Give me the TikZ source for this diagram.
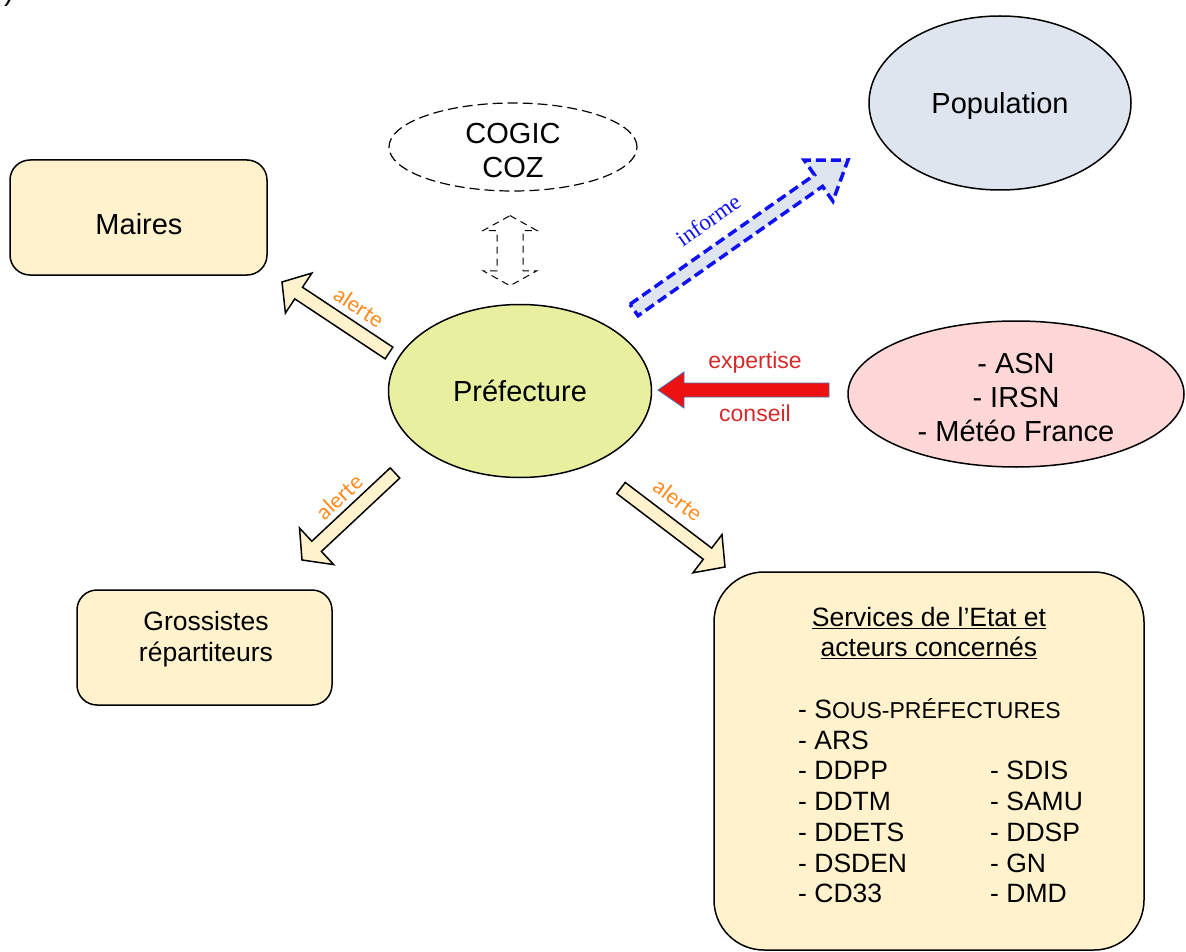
\documentclass[tikz,border=0pt]{standalone}
\usepackage{fontspec}
\setmainfont{Liberation Sans}
\newfontfamily\calibri{Carlito}
\newfontfamily\timesf{Liberation Serif}
\usetikzlibrary{calc,shapes.geometric}
\definecolor{boxY}{HTML}{FFF2CC}
\definecolor{prefG}{HTML}{E8F0A0}
\definecolor{popB}{HTML}{DEE5EE}
\definecolor{asnP}{HTML}{FFD7D7}
\definecolor{orangeT}{HTML}{FF8A1E}
\definecolor{redT}{HTML}{D42A2A}
\definecolor{redA}{HTML}{EE1111}
\definecolor{blueA}{HTML}{1010F5}
\definecolor{edgeB}{HTML}{4A6EA8}
% block arrow: style, tail, tip, half shaft, half head, head length, prefix
\newcommand\barrow[7]{%
  \coordinate (#7h) at ($(#3)!#6!(#2)$);
  \draw[#1] ($(#2)!#4!90:(#3)$) -- ($(#7h)!#4!90:(#3)$) -- ($(#7h)!#5!90:(#3)$) -- (#3)
    -- ($(#7h)!#5!-90:(#3)$) -- ($(#7h)!#4!-90:(#3)$) -- ($(#2)!#4!-90:(#3)$) -- cycle;}
\begin{document}
\begin{tikzpicture}[x=1pt,y=-1pt,
  every node/.style={inner sep=0pt},
  fbig/.style={font=\fontsize{29}{34}\selectfont},
  fmid/.style={font=\fontsize{26.5}{30.6}\selectfont},
  rbox/.style={draw, line width=1.5pt, fill=boxY},
  ell/.style={ellipse, draw, line width=1.5pt},
  alertarrow/.style={draw, line width=1.5pt, fill=boxY, line join=miter},
  alertlbl/.style={text=orangeT, font=\calibri\fontsize{23}{26}\selectfont},
  redlbl/.style={text=redT, font=\fontsize{23}{26}\selectfont}]
\useasboundingbox (0,0) rectangle (1186,952);

% cut-off fragment at top left
\node[fbig, anchor=south] (paren) at (9,7) {)};

% boxes
\node[rbox, rounded corners=20pt, minimum width=257pt, minimum height=115pt] (maires) at (138.5,217.5) {};
\node[fbig] (tmaires) at (139,224) {Maires};
\node[rbox, rounded corners=20pt, minimum width=255pt, minimum height=115pt] (gross) at (204.5,647.5) {};
\node[fmid, align=center] (tgross) at (206,639) {Grossistes\\répartiteurs};
\node[rbox, rounded corners=50pt, minimum width=430pt, minimum height=378pt] (serv) at (929,761) {};
\node[fmid, align=center] (tserv) at (929,633) {\underline{Services de l’Etat et}\\\underline{acteurs concernés}};
\node[fmid, anchor=base west] (s0) at (798,718.5) {- S{\fontsize{23}{26}\selectfont OUS-PRÉFECTURES}};
\foreach \t [count=\i] in {ARS,DDPP,DDTM,DDETS,DSDEN,CD33}
  \node[fmid, anchor=base west] (sl\i) at (798,718.5+30.7*\i) {- \t};
\foreach \t [count=\i from 2] in {SDIS,SAMU,DDSP,GN,DMD}
  \node[fmid, anchor=base west] (sr\i) at (990,718.5+30.7*\i) {- \t};

% ellipses
\node[ell, fill=prefG, minimum width=263pt, minimum height=173pt, fbig] (pref) at (520,391) {Préfecture};
\node[ell, fill=popB, minimum width=262pt, minimum height=174pt] (pop) at (1000,103) {};
\node[fbig] (tpop) at (1000,106) {Population};
\node[ell, fill=asnP, minimum width=336pt, minimum height=146pt] (asn) at (1016,394) {};
\node[fbig, align=center] (tasn) at (1016,398) {- ASN\\- IRSN\\- Météo France};
\node[ellipse, draw, line width=1.2pt, dash pattern=on 10pt off 5pt, minimum width=248pt, minimum height=88pt] (cogic) at (513,147) {};
\node[fbig, align=center] (tcogic) at (513,151) {COGIC\\COZ};

% dashed double arrow COGIC <-> Prefecture
\coordinate (d1) at ($(cogic.south)+(-3,24)$);
\coordinate (d2) at ($(pref.north)+(-10,-18)$);
\draw[line width=1pt, dash pattern=on 7pt off 5pt, line join=miter]
  (d1) -- ($(d1)+(27,15)$) -- ($(d1)+(13,15)$) -- ($(d2)+(13,-15)$) -- ($(d2)+(27,-15)$) -- (d2)
  -- ($(d2)+(-27,-15)$) -- ($(d2)+(-13,-15)$) -- ($(d1)+(-13,15)$) -- ($(d1)+(-27,15)$) -- cycle;

% alert arrows
\coordinate (a1s) at (389,353); \coordinate (a1t) at (282,282);
\barrow{alertarrow}{a1s}{a1t}{7pt}{24pt}{20pt}{a1}
\coordinate (a2s) at (395,473); \coordinate (a2t) at (302,560);
\barrow{alertarrow}{a2s}{a2t}{7pt}{25pt}{20pt}{a2}
\coordinate (a3s) at (621,488); \coordinate (a3t) at (725,567);
\barrow{alertarrow}{a3s}{a3t}{7pt}{24pt}{22pt}{a3}
\node[alertlbl, rotate=-33.5] (al1) at (359,307) {alerte};
\node[alertlbl, rotate=43] (al2) at (339,497) {alerte};
\node[alertlbl, rotate=-37] (al3) at (678,500) {alerte};

% informe arrow
\coordinate (is) at (634,310); \coordinate (it) at (848,160);
\barrow{draw=blueA, fill=popB, line width=3.5pt, dash pattern=on 10pt off 5pt, line join=miter}{is}{it}{7pt}{25pt}{36pt}{inf}
\node[text=blueA, font=\timesf\fontsize{23}{26}\selectfont, rotate=35] (linf) at (708,220) {informe};

% expertise arrow
\coordinate (es) at (829,390); \coordinate (et) at (658,390);
\barrow{draw=edgeB, fill=redA, line width=0.8pt, line join=miter}{es}{et}{7pt}{18pt}{26pt}{ex}
\node[redlbl] (lexp) at (755,363) {expertise};
\node[redlbl] (lcons) at (755,413) {conseil};
\end{tikzpicture}
\end{document}
